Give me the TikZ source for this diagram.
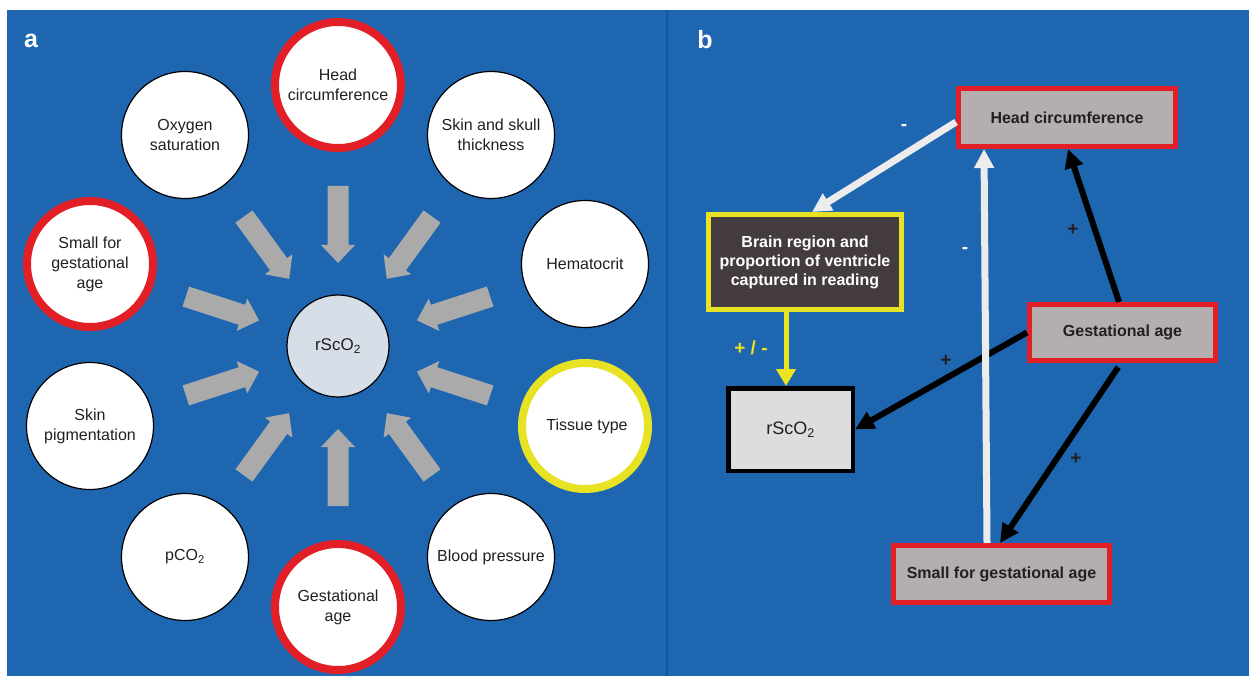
\documentclass[tikz,border=0pt]{standalone}
\usepackage{fontspec}
\setmainfont{Liberation Sans}
\usetikzlibrary{arrows.meta}
\definecolor{bgblue}{RGB}{30,102,176}
\definecolor{divider}{RGB}{16,86,160}
\definecolor{arrowgray}{RGB}{170,170,170}
\definecolor{ringred}{RGB}{226,30,38}
\definecolor{ringyellow}{RGB}{232,226,36}
\definecolor{centerfill}{RGB}{214,222,232}
\definecolor{boxgray}{RGB}{180,174,174}
\definecolor{brainfill}{RGB}{68,60,60}
\definecolor{rsfill}{RGB}{221,221,223}
\definecolor{lightline}{RGB}{236,236,236}
\definecolor{yellowline}{RGB}{236,228,30}
\definecolor{txt}{RGB}{35,31,32}
\begin{document}
\begin{tikzpicture}[x=1pt,y=-1pt,
  lab/.style={font=\fontsize{16}{20}\selectfont, text=txt, align=center},
  wcirc/.style={circle, draw=black, line width=1.2pt, fill=white, minimum size=127pt, inner sep=0pt, lab},
  rcirc/.style={circle, draw=ringred, line width=8pt, fill=white, minimum size=126pt, inner sep=0pt, lab},
  ycirc/.style={rcirc, draw=ringyellow},
  bfont/.style={font=\bfseries\fontsize{16}{19}\selectfont},
  sign/.style={font=\bfseries\fontsize{19}{22}\selectfont},
  rbox/.style={draw=ringred, line width=5pt, fill=boxgray, inner sep=0pt, bfont, text=txt},
  blkarr/.style={draw=black, line width=6pt, -{Triangle[length=19pt,width=18pt]}},
  wharr/.style={draw=lightline, line width=7pt, -{Triangle[length=19pt,width=19pt]}},
  ylarr/.style={draw=yellowline, line width=5pt, -{Triangle[length=17pt,width=19pt]}},
  panel/.style={font=\bfseries\fontsize{25}{30}\selectfont, text=white}]
\useasboundingbox (0,0) rectangle (1249,676);
\fill[white] (0,0) rectangle (1249,676);
\fill[bgblue] (7,10) rectangle (1249,676);
\draw[divider, line width=2pt] (667,10) -- (667,676);

% ---------- panel a ----------
\node[panel] (la) at (31,41) {a};
\foreach \a in {18,54,...,342} {
  \fill[arrowgray, shift={(338,346)}, rotate=\a]
    (160,10.5) -- (101,10.5) -- (101,17) -- (83,0) -- (101,-17) -- (101,-10.5) -- (160,-10.5) -- cycle;
}
\node[circle, draw=black, line width=1.2pt, fill=centerfill, minimum size=102pt, inner sep=0pt, text=txt, font=\fontsize{17}{20}\selectfont] (c) at (338,346) {rScO\textsubscript{2}};
\node[rcirc] (hca) at (338,85) {Head\\circumference};
\node[wcirc] (sst) at (491,135) {Skin and skull\\thickness};
\node[wcirc] (hem) at (585,264) {Hematocrit};
\node[ycirc] (tis) at (585,426) {\hspace*{4pt}Tissue type};
\node[wcirc] (bp) at (491,557) {Blood pressure};
\node[rcirc] (gaa) at (338,607) {Gestational\\age};
\node[wcirc] (pco) at (185,557) {pCO\textsubscript{2}};
\node[wcirc] (skp) at (90,426) {Skin\\pigmentation};
\node[rcirc] (sgaa) at (90,264) {Small for\\gestational\\age};
\node[wcirc] (oxy) at (185,135) {Oxygen\\saturation};

% ---------- panel b ----------
\node[panel] (lb) at (705,40) {b};
\node[rbox, minimum width=217pt, minimum height=58pt] (hc) at (1067,117.5) {Head circumference};
\node[draw=ringyellow, line width=5pt, fill=brainfill, minimum width=193pt, minimum height=95pt, inner sep=0pt, align=center, text=white, bfont] (br) at (805,262) {Brain region and\\proportion of ventricle\\captured in reading};
\node[rbox, minimum width=186pt, minimum height=56pt] (ga) at (1122.5,332.5) {Gestational age};
\node[rbox, minimum width=216pt, minimum height=57pt] (sga) at (1001.5,574) {Small for gestational age};
\node[draw=black, line width=4.5pt, fill=rsfill, minimum width=124.5pt, minimum height=82.5pt, inner sep=0pt, text=txt, font=\fontsize{18}{20}\selectfont] (rs) at (790.5,429.5) {rScO\textsubscript{2}};

\draw[blkarr] ([xshift=-3.5pt]ga.north) -- ([xshift=1pt]hc.south);
\draw[blkarr] (ga.west) -- (rs.east);
\draw[blkarr, shorten <=5pt] ([xshift=-1.5pt]ga.south) -- ([xshift=-1.5pt]sga.north);
\draw[wharr] ([yshift=-4.5pt]hc.west) -- ([xshift=7pt]br.north);
\draw[wharr] ([xshift=-14.5pt]sga.north) -- ([xshift=-83pt]hc.south);
\draw[ylarr] ([xshift=-19pt]br.south) -- ([xshift=-4.5pt]rs.north);

\node[sign, text=white] (m1) at (904,127) {-};
\node[sign, text=white] (m2) at (965,250) {-};
\node[sign, text=txt] (p1) at (1073,230) {+};
\node[sign, text=txt] (p2) at (946,361) {+};
\node[sign, text=txt] (p3) at (1076,459) {+};
\node[sign, text=yellowline] (pm) at (751,348) {+ / -};
\end{tikzpicture}
\end{document}
